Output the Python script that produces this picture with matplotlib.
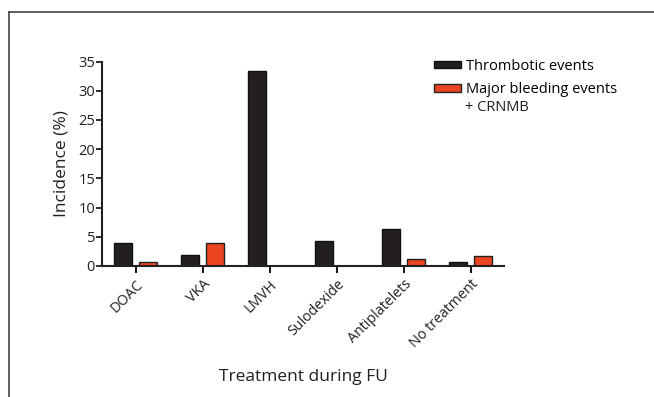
import numpy as np
import matplotlib
matplotlib.use("Agg")
import matplotlib.pyplot as plt
from matplotlib.lines import Line2D

plt.rcParams['font.family'] = ['Open Sans', 'DejaVu Sans']

categories = ["DOAC", "VKA", "LMVH", "Sulodexide", "Antiplatelets", "No treatment"]
thrombotic = [4.0, 1.9, 33.3, 4.2, 6.3, 0.75]
bleeding = [0.6, 4.0, 0.0, 0.0, 1.2, 1.65]
yticks = [0, 5, 10, 15, 20, 25, 30, 35]

black = "#231F20"
red = "#EA4421"

fig = plt.figure(figsize=(6.54, 3.97), dpi=100)
ax = fig.add_axes([0.156, 0.33, 0.615, 0.515])

x = np.arange(len(categories))
w = 0.27
off = 0.185
ax.bar(x - off, thrombotic, w, color=black, edgecolor="#111111", linewidth=1.0,
       label="Thrombotic events")
ax.bar(x + off, bleeding, w, color=red, edgecolor="#222222", linewidth=1.0,
       label="Major bleeding events")

ax.set_xlim(-0.5, 5.5)
ax.set_ylim(0, 35)
ax.set_yticks(yticks)
ax.set_xticks(x)
ax.set_xticklabels(categories, rotation=45, ha="right", rotation_mode="anchor",
                   fontsize=10.3, color="#231F20")
ax.tick_params(axis="y", labelsize=10.5, length=4, width=1.3, pad=1, colors="#231F20")
ax.tick_params(axis="x", length=5, width=1.3, pad=3)

for s in ["top", "right"]:
    ax.spines[s].set_visible(False)
for s in ["left", "bottom"]:
    ax.spines[s].set_linewidth(1.5)
    ax.spines[s].set_color("#231F20")

ax.set_ylabel("Incidence (%)", fontsize=12.5, color="#231F20", labelpad=6)
ax.set_xlabel("Treatment during FU", fontsize=12.5, color="#231F20")
ax.xaxis.set_label_coords(0.5, -0.505)

leg = ax.legend(loc="upper left", bbox_to_anchor=(0.663, 0.852),
                bbox_transform=fig.transFigure, frameon=False, fontsize=10.5,
                handlelength=1.9, handleheight=0.45, handletextpad=0.3,
                labelspacing=0.55, borderaxespad=0, borderpad=0)
fig.text(0.711, 0.73, "+ CRNMB", fontsize=10.5, color="#231F20", va="center")

# frame around the panel
fig.add_artist(Line2D([0.013, 0.013], [0, 0.971], transform=fig.transFigure,
                      color="#444444", linewidth=1.2))
fig.add_artist(Line2D([0.013, 1.0], [0.971, 0.971], transform=fig.transFigure,
                      color="#444444", linewidth=1.2))

fig.savefig("out.png", dpi=100)
